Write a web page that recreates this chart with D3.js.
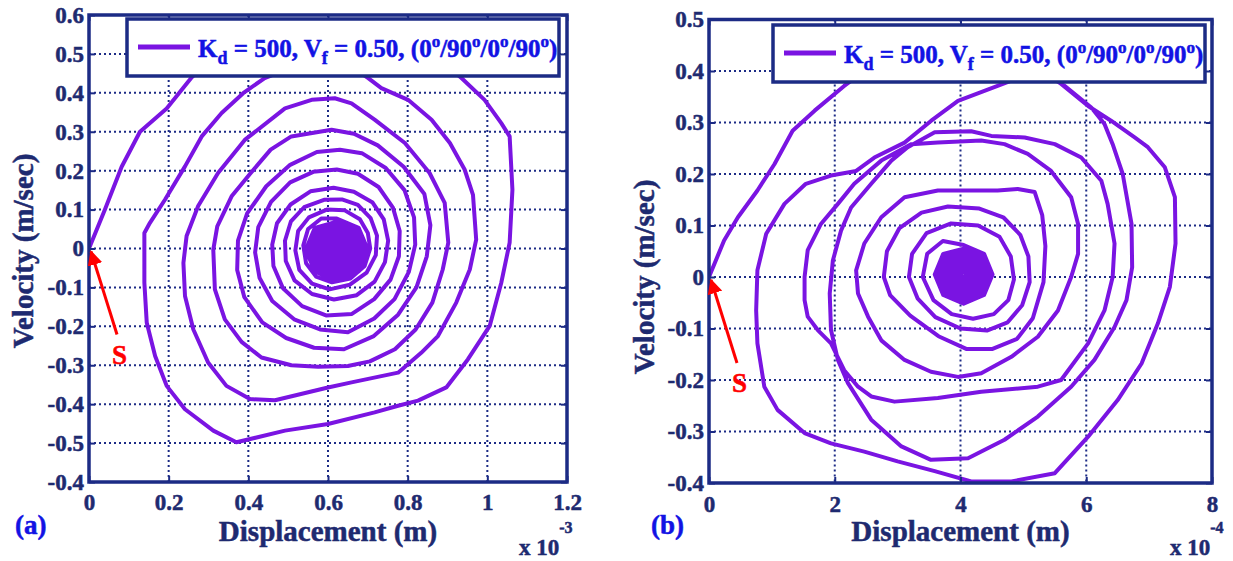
<!DOCTYPE html>
<html>
<head>
<meta charset="utf-8">
<script src="https://cdn.jsdelivr.net/npm/d3@7"></script>
<style>
  body { margin: 0; background: #fff; }
  svg text { font-family: "Liberation Serif", "Times New Roman", serif; font-weight: bold; }
</style>
</head>
<body>
<svg id="fig" width="1233" height="561"></svg>
<script>
// ---- data: [displacement, velocity] ----
// panel (a): displacement in 1e-3 m
const phaseA = [
  [0,0],[0.04,0.10],[0.082,0.21],[0.128,0.30],[0.195,0.36],[0.258,0.44],
  [0.32,0.5],[0.42,0.55],[0.55,0.575],[0.68,0.57],[0.80,0.53],[0.88,0.485],
  [0.935,0.438],[0.993,0.382],[1.035,0.322],[1.056,0.288],[1.063,0.151],[1.056,0.015],[1.035,-0.088],[1.006,-0.199],
  [0.951,-0.285],[0.897,-0.357],[0.826,-0.391],[0.776,-0.404],[0.717,-0.421],[0.6,-0.451],[0.492,-0.468],[0.37,-0.498],
  [0.312,-0.468],[0.241,-0.413],[0.195,-0.353],[0.166,-0.276],[0.145,-0.191],[0.139,-0.088],[0.139,0.04],[0.153,0.066],
  [0.191,0.126],[0.241,0.211],[0.283,0.288],[0.333,0.348],[0.387,0.399],[0.441,0.438],
  [0.52,0.47],[0.6,0.48],[0.67,0.46],
  [0.701,0.438],[0.734,0.412],[0.801,0.382],[0.86,0.331],[0.906,0.271],[0.943,0.203],[0.964,0.138],[0.972,0.023],
  [0.956,-0.054],[0.922,-0.139],[0.876,-0.225],[0.834,-0.268],[0.776,-0.319],[0.659,-0.344],[0.6,-0.357],[0.467,-0.39],
  [0.404,-0.387],[0.345,-0.353],[0.299,-0.293],[0.262,-0.208],[0.241,-0.122],[0.237,-0.037],[0.245,0.032],[0.274,0.109],
  [0.324,0.194],[0.391,0.279],[0.492,0.36],[0.559,0.382],[0.617,0.386],
  [0.659,0.373],[0.717,0.331],[0.793,0.271],[0.855,0.194],[0.893,0.117],[0.902,0.015],[0.888,-0.054],[0.862,-0.139],
  [0.82,-0.208],[0.768,-0.259],[0.705,-0.29],[0.65,-0.302],[0.575,-0.304],[0.508,-0.3],[0.433,-0.28],[0.383,-0.24],
  [0.341,-0.182],[0.316,-0.105],[0.312,-0.003],[0.322,0.057],[0.358,0.134],[0.406,0.194],[0.456,0.254],[0.508,0.288],[0.609,0.305],
  [0.665,0.295],[0.725,0.265],[0.79,0.21],[0.842,0.14],[0.857,0.06],[0.848,-0.02],[0.822,-0.1],[0.776,-0.17],[0.715,-0.225],
  [0.64,-0.259],[0.565,-0.255],[0.495,-0.23],[0.435,-0.19],[0.39,-0.125],[0.372,-0.055],[0.374,0.02],[0.397,0.09],
  [0.445,0.16],[0.505,0.215],[0.572,0.248],[0.63,0.254],
  [0.685,0.245],[0.745,0.207],[0.792,0.15],[0.816,0.08],[0.819,0.01],[0.803,-0.06],[0.767,-0.13],[0.716,-0.18],
  [0.65,-0.215],[0.58,-0.208],[0.515,-0.182],[0.46,-0.135],[0.428,-0.075],[0.417,-0.01],[0.425,0.055],[0.457,0.12],
  [0.505,0.17],[0.563,0.197],[0.622,0.203],
  [0.675,0.192],[0.727,0.158],[0.763,0.105],[0.78,0.045],[0.778,-0.02],[0.757,-0.08],[0.716,-0.13],[0.66,-0.168],
  [0.595,-0.172],[0.535,-0.148],[0.487,-0.102],[0.463,-0.045],[0.46,0.01],[0.472,0.065],[0.506,0.113],[0.556,0.147],[0.614,0.156],
  [0.665,0.146],[0.712,0.118],[0.74,0.075],[0.751,0.02],[0.743,-0.035],[0.717,-0.085],[0.672,-0.12],[0.615,-0.131],
  [0.56,-0.117],[0.516,-0.082],[0.494,-0.032],[0.492,0.02],[0.507,0.07],[0.54,0.106],[0.59,0.125],[0.635,0.126],
  [0.675,0.112],[0.707,0.078],[0.723,0.033],[0.72,-0.017],[0.697,-0.062],[0.655,-0.093],[0.604,-0.105],[0.56,-0.09],
  [0.528,-0.055],[0.518,-0.005],[0.525,0.045],[0.552,0.08],[0.597,0.1],[0.642,0.098],
  [0.68,0.075],[0.7,0.04],[0.706,0.0],[0.692,-0.045],[0.656,-0.077],[0.61,-0.087],[0.57,-0.072],[0.545,-0.038],
  [0.538,0.008],[0.55,0.05],[0.583,0.077],
  // dense core
  [0.622,0.077],[0.677,0.053],[0.700,-0.003],[0.677,-0.059],[0.622,-0.083],[0.567,-0.059],[0.544,-0.003],[0.567,0.053],
  [0.622,0.069],[0.672,0.048],[0.692,-0.003],[0.672,-0.054],[0.622,-0.075],[0.572,-0.054],[0.552,-0.003],[0.572,0.048],
  [0.622,0.061],[0.666,0.042],[0.684,-0.003],[0.666,-0.048],[0.622,-0.067],[0.578,-0.048],[0.56,-0.003],[0.578,0.042],
  [0.622,0.053],[0.66,0.037],[0.676,-0.003],[0.66,-0.043],[0.622,-0.059],[0.584,-0.043],[0.568,-0.003],[0.584,0.037],
  [0.622,0.045],[0.655,0.031],[0.668,-0.003],[0.655,-0.037],[0.622,-0.051],[0.589,-0.037],[0.576,-0.003],[0.589,0.031],
  [0.622,0.037],[0.649,0.025],[0.66,-0.003],[0.649,-0.031],[0.622,-0.043],[0.595,-0.031],[0.584,-0.003],[0.595,0.025],
  [0.622,0.029],[0.643,0.020],[0.652,-0.003],[0.643,-0.026],[0.622,-0.035],[0.601,-0.026],[0.592,-0.003],[0.601,0.020],
  [0.622,0.021],[0.638,0.014],[0.644,-0.003],[0.638,-0.02],[0.622,-0.027],[0.606,-0.02],[0.6,-0.003],[0.606,0.014],
  [0.622,0.013],[0.632,0.008],[0.636,-0.003],[0.632,-0.014],[0.622,-0.019],[0.612,-0.014],[0.608,-0.003],[0.612,0.008],
  [0.622,0.005],[0.627,-0.003],[0.622,-0.011],[0.617,-0.003],[0.622,0.003]
];

// panel (b): displacement in 1e-4 m
const phaseB = [
  [0,0],[0.24,0.071],[0.46,0.116],[0.77,0.168],[1.04,0.219],[1.33,0.284],[1.68,0.323],[2.15,0.371],
  [2.7,0.42],[3.4,0.45],[4.2,0.455],[4.9,0.43],[5.45,0.39],
  [6.03,0.332],[6.4,0.303],[6.77,0.271],[6.98,0.252],[7.25,0.213],[7.41,0.155],[7.42,0.065],[7.33,-0.019],[7.14,-0.09],
  [6.88,-0.168],[6.5,-0.239],[6.03,-0.31],[5.5,-0.381],[4.81,-0.397],[4.17,-0.397],[3.59,-0.377],[3.0,-0.358],
  [2.47,-0.339],[1.94,-0.323],[1.52,-0.303],[1.09,-0.258],[0.88,-0.213],[0.77,-0.129],[0.75,-0.065],[0.77,0.013],
  [0.91,0.084],[1.2,0.142],[1.54,0.181],[1.94,0.197],[2.34,0.206],[2.63,0.232],[3.11,0.261],[3.53,0.303],[3.96,0.342],[4.59,0.371],
  [5.0,0.39],[5.4,0.39],
  [5.66,0.371],[6.08,0.329],[6.29,0.297],[6.42,0.258],[6.58,0.2],[6.72,0.103],[6.73,0.019],[6.64,-0.045],[6.45,-0.097],
  [6.13,-0.161],[5.76,-0.213],[5.23,-0.271],[4.7,-0.316],[4.12,-0.352],[3.53,-0.355],[3.06,-0.329],[2.58,-0.277],
  [2.21,-0.206],[2.05,-0.161],[1.94,-0.103],[1.92,-0.032],[1.97,0.032],[2.1,0.09],[2.26,0.135],[2.58,0.181],[2.9,0.226],
  [3.16,0.252],[3.59,0.281],[4.17,0.283],[4.49,0.274],[5.02,0.271],[5.5,0.258],[5.92,0.232],[6.24,0.187],[6.34,0.142],
  [6.45,0.065],[6.42,0.0],[6.29,-0.065],[6.03,-0.129],[5.6,-0.2],[5.23,-0.213],[4.33,-0.223],[3.64,-0.235],[2.95,-0.242],
  [2.58,-0.232],[2.37,-0.213],[2.15,-0.181],[1.94,-0.129],[1.73,-0.103],[1.57,-0.077],[1.52,-0.045],[1.52,0.0],
  [1.57,0.052],[1.78,0.103],[2.05,0.142],[2.31,0.181],[2.74,0.226],[3.22,0.258],[3.64,0.261],[4.33,0.265],[4.7,0.258],
  [5.07,0.239],[5.44,0.206],[5.76,0.155],[5.87,0.103],[5.87,0.045],[5.76,0.0],[5.55,-0.065],[5.23,-0.116],[4.81,-0.155],
  [4.33,-0.187],[3.96,-0.194],[3.53,-0.184],[3.11,-0.161],[2.74,-0.123],[2.53,-0.077],[2.37,-0.032],[2.34,0.013],
  [2.47,0.065],[2.74,0.116],[3.11,0.155],[3.64,0.168],[4.17,0.168],[4.59,0.168],[4.91,0.171],[5.18,0.165],[5.3,0.12],
  [5.35,0.06],[5.32,-0.01],[5.15,-0.08],[4.9,-0.12],[4.5,-0.14],[4.1,-0.14],[3.65,-0.115],[3.2,-0.075],[2.88,-0.035],
  [2.78,0.0],[2.83,0.05],[3.03,0.095],[3.38,0.125],[3.8,0.137],[4.3,0.133],[4.68,0.116],[4.95,0.082],[5.08,0.04],[5.1,-0.01],
  [4.98,-0.055],[4.75,-0.088],[4.42,-0.104],[4.0,-0.1],[3.6,-0.078],[3.32,-0.042],[3.18,0.0],[3.23,0.045],[3.46,0.085],
  [3.85,0.104],[4.28,0.1],[4.62,0.078],[4.8,0.04],[4.85,-0.005],[4.76,-0.045],[4.53,-0.072],[4.2,-0.081],[3.86,-0.072],
  [3.57,-0.045],[3.4,0.0],[3.47,0.045],[3.72,0.07],
  // dense core
  [4.05,0.062],[4.375,0.045],[4.51,0.005],[4.375,-0.035],[4.05,-0.052],[3.725,-0.035],[3.59,0.005],[3.725,0.045],
  [4.05,0.055],[4.33,0.04],[4.45,0.005],[4.33,-0.03],[4.05,-0.045],[3.77,-0.03],[3.65,0.005],[3.77,0.04],
  [4.05,0.048],[4.29,0.035],[4.39,0.005],[4.29,-0.025],[4.05,-0.038],[3.81,-0.025],[3.71,0.005],[3.81,0.035],
  [4.05,0.041],[4.25,0.03],[4.33,0.005],[4.25,-0.02],[4.05,-0.031],[3.85,-0.02],[3.77,0.005],[3.85,0.03],
  [4.05,0.034],[4.21,0.025],[4.27,0.005],[4.21,-0.015],[4.05,-0.024],[3.89,-0.015],[3.83,0.005],[3.89,0.025],
  [4.05,0.026],[4.16,0.02],[4.21,0.005],[4.16,-0.01],[4.05,-0.016],[3.94,-0.01],[3.89,0.005],[3.94,0.02],
  [4.05,0.018],[4.12,0.014],[4.15,0.005],[4.12,-0.004],[4.05,-0.008],[3.98,-0.004],[3.95,0.005],[3.98,0.014],
  [4.05,0.012],[4.1,0.005],[4.05,-0.002],[4.0,0.005],[4.05,0.01]
];

// ticks and labels (the bottom label of panel (a) reads -0.4 in the original)
const xTicksA = [0, 0.2, 0.4, 0.6, 0.8, 1, 1.2];
const xLabelsA = ["0", "0.2", "0.4", "0.6", "0.8", "1", "1.2"];
const yTicksA = [-0.6, -0.5, -0.4, -0.3, -0.2, -0.1, 0, 0.1, 0.2, 0.3, 0.4, 0.5, 0.6];
const yLabelsA = ["-0.4", "-0.5", "-0.4", "-0.3", "-0.2", "-0.1", "0", "0.1", "0.2", "0.3", "0.4", "0.5", "0.6"];
const xTicksB = [0, 2, 4, 6, 8];
const xLabelsB = ["0", "2", "4", "6", "8"];
const yTicksB = [-0.4, -0.3, -0.2, -0.1, 0, 0.1, 0.2, 0.3, 0.4, 0.5];
const yLabelsB = ["-0.4", "-0.3", "-0.2", "-0.1", "0", "0.1", "0.2", "0.3", "0.4", "0.5"];

const lineColor = "#7a14e2";
const navy = "#1c2b85";
const textNavy = "#1e2a70";
const blue = "#1212e4";

const svg = d3.select("#fig");

svg.append("defs").append("marker")
    .attr("id", "arrowHead")
    .attr("viewBox", "0 0 10 10")
    .attr("refX", 9).attr("refY", 5)
    .attr("markerWidth", 5).attr("markerHeight", 5)
    .attr("markerUnits", "strokeWidth")
    .attr("orient", "auto")
  .append("path")
    .attr("d", "M0,0 L10,5 L0,10 Z")
    .attr("fill", "#ff0000");

// slightly heavier glyphs, like the original print
function heavy(sel, color) {
    return sel.attr("fill", color).attr("stroke", color).attr("stroke-width", 0.5);
}

function drawPanel(p) {
    const x = d3.scaleLinear().domain(p.xDomain).range([p.box.left, p.box.right]);
    const y = d3.scaleLinear().domain(p.yDomain).range([p.box.bottom, p.box.top]);
    const g = svg.append("g");

    // dotted grid
    g.append("g").selectAll("line").data(p.xTicks.slice(1, -1)).join("line")
        .attr("x1", d => x(d)).attr("x2", d => x(d))
        .attr("y1", p.box.top).attr("y2", p.box.bottom)
        .attr("stroke", navy).attr("stroke-width", 2).attr("stroke-dasharray", "2,3");
    g.append("g").selectAll("line").data(p.yTicks.slice(1, -1)).join("line")
        .attr("x1", p.box.left).attr("x2", p.box.right)
        .attr("y1", d => y(d)).attr("y2", d => y(d))
        .attr("stroke", navy).attr("stroke-width", 2).attr("stroke-dasharray", "2,3");

    // trajectory, clipped to the axes box
    svg.select("defs").append("clipPath").attr("id", p.id + "Clip")
      .append("rect")
        .attr("x", p.box.left).attr("y", p.box.top)
        .attr("width", p.box.right - p.box.left).attr("height", p.box.bottom - p.box.top);

    const line = d3.line().x(d => x(d[0])).y(d => y(d[1]));
    g.append("path")
        .datum(p.data)
        .attr("clip-path", `url(#${p.id}Clip)`)
        .attr("fill", "none")
        .attr("stroke", lineColor)
        .attr("stroke-width", 4)
        .attr("stroke-linejoin", "round")
        .attr("d", line);

    // axes with inward ticks (box on)
    const styleAxis = sel => {
        sel.select(".domain").remove();
        sel.selectAll("line").attr("stroke", navy).attr("stroke-width", 2);
        sel.attr("font-family", null).attr("font-size", 23);
        heavy(sel.selectAll("text"), textNavy);
    };
    g.append("g").attr("transform", `translate(0,${p.box.bottom})`)
        .call(d3.axisBottom(x).tickValues(p.xTicks).tickFormat((d, i) => p.xLabels[i])
            .tickSizeInner(-6).tickSizeOuter(0).tickPadding(p.xPad))
        .call(styleAxis);
    g.append("g").attr("transform", `translate(${p.box.left},0)`)
        .call(d3.axisLeft(y).tickValues(p.yTicks).tickFormat((d, i) => p.yLabels[i])
            .tickSizeInner(-6).tickSizeOuter(0).tickPadding(5))
        .call(styleAxis);
    g.append("g").attr("transform", `translate(0,${p.box.top})`)
        .call(d3.axisTop(x).tickValues(p.xTicks).tickFormat("").tickSizeInner(-6).tickSizeOuter(0))
        .call(styleAxis);
    g.append("g").attr("transform", `translate(${p.box.right},0)`)
        .call(d3.axisRight(y).tickValues(p.yTicks).tickFormat("").tickSizeInner(-6).tickSizeOuter(0))
        .call(styleAxis);

    g.append("rect")
        .attr("x", p.box.left).attr("y", p.box.top)
        .attr("width", p.box.right - p.box.left).attr("height", p.box.bottom - p.box.top)
        .attr("fill", "none").attr("stroke", navy).attr("stroke-width", 3.5);

    // legend
    const L = p.legend;
    g.append("rect")
        .attr("x", L.x).attr("y", L.y).attr("width", L.w).attr("height", L.h)
        .attr("fill", "#fff").attr("stroke", navy).attr("stroke-width", 3.5);
    g.append("line")
        .attr("x1", L.x + 11).attr("x2", L.x + 63)
        .attr("y1", L.y + 28).attr("y2", L.y + 28)
        .attr("stroke", lineColor).attr("stroke-width", 5);
    const lt = heavy(g.append("text"), blue)
        .attr("x", L.x + 71).attr("y", L.y + 38)
        .attr("font-size", 25);
    const sub = 7, sup = 10;
    lt.append("tspan").text("K");
    lt.append("tspan").text("d").attr("font-size", 18).attr("dy", sub);
    lt.append("tspan").text(" = 500, V").attr("dy", -sub);
    lt.append("tspan").text("f").attr("font-size", 18).attr("dy", sub);
    lt.append("tspan").text(" = 0.50, (0").attr("dy", -sub);
    lt.append("tspan").text("o").attr("font-size", 17).attr("dy", -sup);
    lt.append("tspan").text("/90").attr("dy", sup);
    lt.append("tspan").text("o").attr("font-size", 17).attr("dy", -sup);
    lt.append("tspan").text("/0").attr("dy", sup);
    lt.append("tspan").text("o").attr("font-size", 17).attr("dy", -sup);
    lt.append("tspan").text("/90").attr("dy", sup);
    lt.append("tspan").text("o").attr("font-size", 17).attr("dy", -sup);
    lt.append("tspan").text(")").attr("dy", sup);

    // axis titles
    const xMid = (p.box.left + p.box.right) / 2;
    heavy(g.append("text"), textNavy)
        .attr("x", xMid).attr("y", 541)
        .attr("text-anchor", "middle").attr("font-size", 29)
        .text("Displacement (m)");
    heavy(g.append("text"), textNavy)
        .attr("transform", `translate(${p.yTitleX},${p.yTitleY}) rotate(-90)`)
        .attr("text-anchor", "middle").attr("font-size", 29)
        .text("Velocity (m/sec)");
    heavy(g.append("text"), blue)
        .attr("x", p.tagX).attr("y", 534)
        .attr("font-size", 27)
        .text(p.tag);

    // exponent note
    const ex = heavy(g.append("text"), textNavy)
        .attr("x", p.box.right - p.expOffset).attr("y", 555)
        .attr("font-size", 23);
    ex.append("tspan").text("x 10");
    ex.append("tspan").text(p.exponent).attr("font-size", 16).attr("dy", -22);

    // start marker
    const x0 = x(0), y0 = y(0);
    g.append("line")
        .attr("x1", x0 + 28).attr("y1", y0 + 86)
        .attr("x2", x0 + 2).attr("y2", y0 + 3)
        .attr("stroke", "#ff0000").attr("stroke-width", 3)
        .attr("marker-end", "url(#arrowHead)");
    heavy(g.append("text"), "#ff0000")
        .attr("x", x0 + 23).attr("y", y0 + 115)
        .attr("font-size", 27)
        .text("S");
}

drawPanel({
    id: "a", data: phaseA,
    xDomain: [0, 1.2], yDomain: [-0.6, 0.6],
    box: { left: 89, right: 567, top: 15, bottom: 482 },
    xTicks: xTicksA, xLabels: xLabelsA, yTicks: yTicksA, yLabels: yLabelsA,
    xPad: 12,
    legend: { x: 127, y: 19, w: 432, h: 57 },
    yTitleX: 33, yTitleY: 251,
    tag: "(a)", tagX: 15,
    exponent: "-3", expOffset: 48
});

drawPanel({
    id: "b", data: phaseB,
    xDomain: [0, 8], yDomain: [-0.4, 0.5],
    box: { left: 709, right: 1212, top: 19.5, bottom: 483 },
    xTicks: xTicksB, xLabels: xLabelsB, yTicks: yTicksB, yLabels: yLabelsB,
    xPad: 13,
    legend: { x: 773, y: 25, w: 432, h: 57 },
    yTitleX: 654, yTitleY: 277,
    tag: "(b)", tagX: 651,
    exponent: "-4", expOffset: 42
});
</script>
</body>
</html>
